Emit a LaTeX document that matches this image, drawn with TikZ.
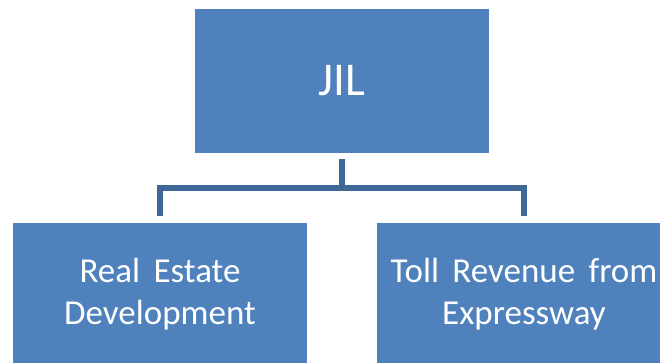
\documentclass[tikz,border=0pt]{standalone}
\usepackage{fontspec}
\setmainfont{Carlito}
\newfontfamily\boxfont[WordSpace=1.7]{Carlito}
\usetikzlibrary{positioning}
\definecolor{boxblue}{HTML}{4F81BD}
\definecolor{linkblue}{HTML}{3F6898}
\tikzset{
	unitbox/.style={draw=white, line width=0.6pt, fill=boxblue, text=white,
		minimum width=295pt, minimum height=145pt, inner sep=0pt, align=center},
	link/.style={draw=linkblue, line width=5.2pt, line join=miter}
}

\begin{document}
\begin{tikzpicture}[x=1pt, y=-1pt]
		%%%%% START %%%%%
		\useasboundingbox (0, 0) rectangle (660, 362);
		\clip (0, 0) rectangle (660, 362);
		
		% parent
		\node[unitbox, font=\fontsize{47}{56}\selectfont] (jil) at (342, 80.75) {JIL};
		
		% children
		\node[unitbox, font=\boxfont\fontsize{35}{42}\selectfont] (realestate) at (160, 294.5) {Real Estate\\Development};
		\node[unitbox, font=\boxfont\fontsize{35}{42}\selectfont] (toll) at (524, 294.5) {Toll Revenue from\\Expressway};
		
		% bus line
		\coordinate (bus) at (342, 188);
		\draw[link] ([yshift=-5.5pt]jil.south) -- (jil.south |- bus);
		\draw[link] ([yshift=5.3pt]realestate.north) -- (realestate.north |- bus)
			-- (toll.north |- bus) -- ([yshift=5.3pt]toll.north);
		
		%%%%% END %%%%%
	\end{tikzpicture}
\end{document}
